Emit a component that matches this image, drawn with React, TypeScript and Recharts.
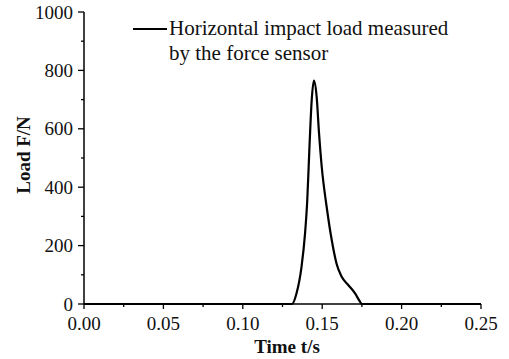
import { Label, Legend, Line, LineChart, XAxis, YAxis } from "recharts";

// values
const times = [0, 0.131, 0.1338, 0.137, 0.1392, 0.1406, 0.1419, 0.1434, 0.1448, 0.1465, 0.148, 0.1497, 0.1528, 0.156, 0.159, 0.1622, 0.1664, 0.1706, 0.1738, 0.1748, 0.25];
const loads = [0, 0, 36, 128, 242, 356, 527, 699, 765, 710, 585, 470, 333, 219, 139, 94, 65, 37, 8, 0, 0];

const xTicks = [0, 0.025, 0.05, 0.075, 0.1, 0.125, 0.15, 0.175, 0.2, 0.225, 0.25];
const yTicks = [0, 100, 200, 300, 400, 500, 600, 700, 800, 900, 1000];

const legendLines = ["Horizontal impact load measured", "by the force sensor"];

const data = times.map((t, i) => ({ t, load: loads[i] }));

const FONT = "'Liberation Serif', 'Times New Roman', serif";
const TICK_SIZE = 6;
const TICK_MARGIN = 3;

const isMajor = (v: number, step: number) =>
  Math.abs(v / step - Math.round(v / step)) < 1e-6;

const XTick = (props: any) => {
  const { x, y, payload } = props;
  const axisY = y - TICK_SIZE - TICK_MARGIN;
  const major = isMajor(payload.value, 0.05);
  return (
    <g>
      <line x1={x} x2={x} y1={axisY} y2={axisY + (major ? 5 : 3)} stroke="#000" strokeWidth={1.3} />
      {major && (
        <text x={x} y={axisY + 26} textAnchor="middle" style={{ fontFamily: FONT, fontSize: 19 }} fill="#111">
          {payload.value.toFixed(2)}
        </text>
      )}
    </g>
  );
};

const YTick = (props: any) => {
  const { x, y, payload } = props;
  const axisX = x + TICK_SIZE + TICK_MARGIN;
  const major = isMajor(payload.value, 200);
  return (
    <g>
      <line x1={axisX - (major ? 6 : 3)} x2={axisX} y1={y} y2={y} stroke="#000" strokeWidth={1.3} />
      {major && (
        <text x={axisX - 11} y={y + 6.5} textAnchor="end" style={{ fontFamily: FONT, fontSize: 19 }} fill="#111">
          {payload.value}
        </text>
      )}
    </g>
  );
};

const LegendBox = () => (
  <svg width={509} height={70} style={{ display: "block" }}>
    <line x1={133} x2={167} y1={29} y2={29} stroke="#000" strokeWidth={2} />
    {legendLines.map((s, i) => (
      <text key={s} x={169} y={35 + i * 24.5} style={{ fontFamily: FONT, fontSize: 21 }} fill="#111">
        {s}
      </text>
    ))}
  </svg>
);

export default function App() {
  return (
    <div style={{ position: "absolute", left: 0, top: 0, background: "#fff" }}>
      <LineChart width={509} height={359} data={data} margin={{ top: 12, right: 28, left: 0, bottom: 0 }}>
        <XAxis
          dataKey="t"
          type="number"
          domain={[0, 0.25]}
          ticks={xTicks}
          interval={0}
          height={55}
          tickSize={TICK_SIZE}
          tickMargin={TICK_MARGIN}
          tickLine={false}
          axisLine={{ stroke: "#000", strokeWidth: 1.5 }}
          tick={<XTick />}
        >
          <Label
            content={() => (
              <text x={287} y={353} textAnchor="middle" style={{ fontFamily: FONT, fontSize: 19, fontWeight: "bold" }} fill="#111">
                Time t/s
              </text>
            )}
          />
        </XAxis>
        <YAxis
          type="number"
          domain={[0, 1000]}
          ticks={yTicks}
          interval={0}
          width={84}
          tickSize={TICK_SIZE}
          tickMargin={TICK_MARGIN}
          tickLine={false}
          axisLine={{ stroke: "#000", strokeWidth: 1.5 }}
          tick={<YTick />}
        >
          <Label
            content={() => (
              <text
                x={30}
                y={155}
                transform="rotate(-90, 30, 155)"
                textAnchor="middle"
                style={{ fontFamily: FONT, fontSize: 19, fontWeight: "bold" }}
                fill="#111"
              >
                Load F/N
              </text>
            )}
          />
        </YAxis>
        <Legend
          layout="vertical"
          align="center"
          verticalAlign="middle"
          wrapperStyle={{ left: 0, top: 0, width: 509 }}
          content={() => <LegendBox />}
        />
        <Line
          dataKey="load"
          type="monotone"
          stroke="#000"
          strokeWidth={2.2}
          dot={false}
          isAnimationActive={false}
        />
      </LineChart>
    </div>
  );
}
